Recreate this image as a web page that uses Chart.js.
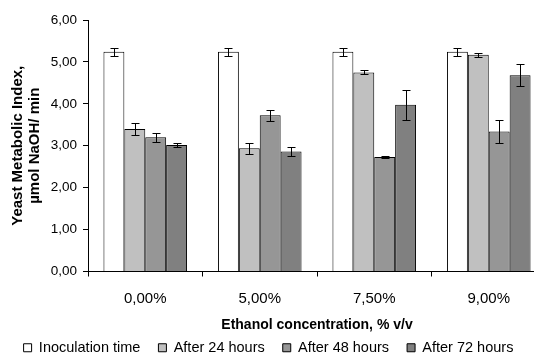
<!DOCTYPE html>
<html>
<head>
<meta charset="utf-8">
<script src="https://cdn.jsdelivr.net/npm/chart.js@4.4.1/dist/chart.umd.min.js"></script>
<style>
  html, body { margin: 0; padding: 0; background: #fff; overflow: hidden; }
  #recorte { width: 534px; height: 360px; overflow: hidden; position: relative; }
  #wrap { width: 548px; height: 365px; position: relative; }
</style>
</head>
<body>
<div id="recorte"><div id="wrap"><canvas id="grafico"></canvas></div></div>
<script>
// datos
const concentraciones = ['0,00%', '5,00%', '7,50%', '9,00%'];
const inoculacion = [5.24, 5.24, 5.24, 5.24];
const horas24 = [3.40, 2.94, 4.75, 5.17];
const horas48 = [3.20, 3.73, 2.73, 3.34];
const horas72 = [3.02, 2.86, 3.98, 4.68];
const errInoculacion = [0.10, 0.10, 0.10, 0.10];
const err24 = [0.14, 0.13, 0.05, 0.05];
const err48 = [0.10, 0.13, 0.02, 0.28];
const err72 = [0.05, 0.11, 0.36, 0.26];
const ticksY = [0, 1, 2, 3, 4, 5, 6];

const fuente = "'Liberation Sans', Arial, sans-serif";

// barras de error dibujadas con la escala y
const barrasError = {
    id: 'barrasError',
    afterDatasetsDraw(chart) {
        const ctx = chart.ctx;
        const y = chart.scales.y;
        ctx.save();
        ctx.strokeStyle = '#000';
        ctx.lineWidth = 1;
        chart.data.datasets.forEach((ds, i) => {
            const meta = chart.getDatasetMeta(i);
            meta.data.forEach((bar, j) => {
                const v = ds.data[j];
                const e = ds.errores[j];
                const x = Math.round(bar.x) + 0.5;
                const arriba = Math.round(y.getPixelForValue(v + e)) + 0.5;
                const abajo = Math.round(y.getPixelForValue(v - e)) + 0.5;
                ctx.beginPath();
                ctx.moveTo(x, arriba);
                ctx.lineTo(x, abajo);
                ctx.moveTo(x - 4, arriba);
                ctx.lineTo(x + 4, arriba);
                ctx.moveTo(x - 4, abajo);
                ctx.lineTo(x + 4, abajo);
                ctx.stroke();
            });
        });
        ctx.restore();
    }
};

// la leyenda queda centrada en la parte visible
const moverLeyenda = {
    id: 'moverLeyenda',
    afterLayout(chart) {
        if (chart.legend) {
            chart.legend.right -= 9;
        }
    }
};

function serie(nombre, datos, errores, color) {
    return {
        label: nombre,
        data: datos,
        errores: errores,
        backgroundColor: color,
        borderColor: '#000',
        borderWidth: 1,
        barPercentage: 1.0,
        categoryPercentage: 0.73
    };
}

new Chart('grafico', {
    type: 'bar',
    data: {
        labels: concentraciones,
        datasets: [
            serie('Inoculation time', inoculacion, errInoculacion, '#ffffff'),
            serie('After 24 hours', horas24, err24, '#c0c0c0'),
            serie('After 48 hours', horas48, err48, '#969696'),
            serie('After 72 hours', horas72, err72, '#808080')
        ]
    },
    options: {
        responsive: true,
        maintainAspectRatio: false,
        animation: false,
        layout: {
            padding: { top: 20, right: 2, bottom: 0, left: 0 }
        },
        plugins: {
            tooltip: { enabled: false },
            legend: {
                position: 'bottom',
                labels: {
                    color: '#000',
                    font: { family: fuente, size: 14.5 },
                    boxWidth: 8,
                    boxHeight: 8,
                    padding: 18
                }
            }
        },
        scales: {
            x: {
                offset: true,
                afterFit: (s) => { s.height = 51; },
                grid: {
                    offset: true,
                    drawOnChartArea: false,
                    drawTicks: true,
                    tickLength: 5,
                    color: '#000'
                },
                border: { color: '#000', width: 1 },
                ticks: {
                    color: '#000',
                    font: { family: fuente, size: 15 },
                    padding: 13
                },
                title: {
                    display: true,
                    text: 'Ethanol concentration, % v/v',
                    color: '#000',
                    font: { family: fuente, size: 14, weight: 'bold' },
                    padding: { top: 0, bottom: -11 }
                }
            },
            y: {
                min: 0,
                max: 6,
                afterFit: (s) => { s.width = 88; },
                afterBuildTicks: (s) => { s.ticks = ticksY.map(v => ({ value: v })); },
                grid: {
                    drawOnChartArea: false,
                    drawTicks: true,
                    tickLength: 5,
                    color: '#000'
                },
                border: { color: '#000', width: 1 },
                ticks: {
                    color: '#000',
                    font: { family: fuente, size: 13.5 },
                    padding: 6,
                    callback: (v) => Number(v).toFixed(2).replace('.', ',')
                },
                title: {
                    display: true,
                    text: ['Yeast Metabolic Index,', 'µmol NaOH/ min'],
                    color: '#000',
                    font: { family: fuente, size: 15, weight: 'bold', lineHeight: 1.15 },
                    padding: { top: 9, bottom: 0 }
                }
            }
        }
    },
    plugins: [barrasError, moverLeyenda]
});
</script>
</body>
</html>
